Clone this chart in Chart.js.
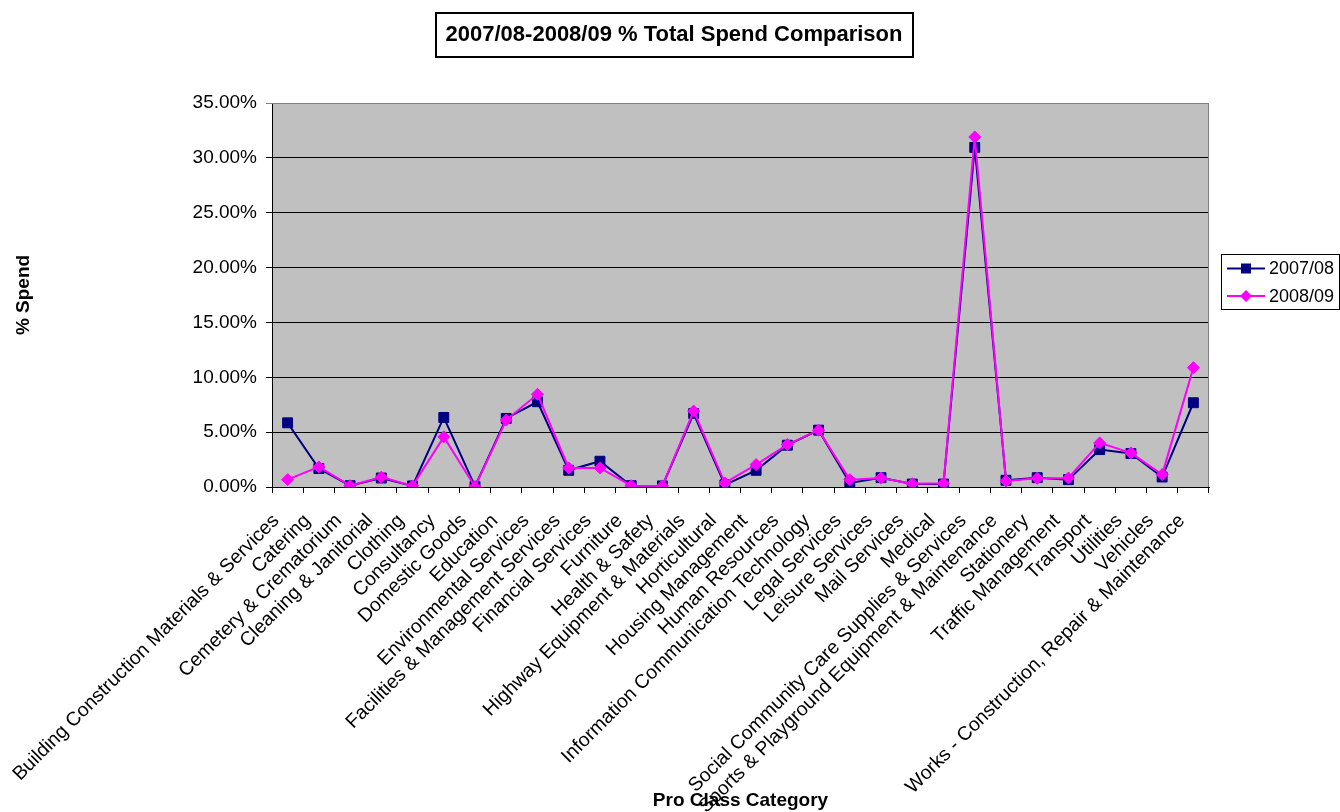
<!DOCTYPE html>
<html>
<head>
<meta charset="utf-8">
<script src="https://cdn.jsdelivr.net/npm/chart.js@4/dist/chart.umd.min.js"></script>
<style>
html,body{margin:0;padding:0;background:#fff;}
#wrap{width:1340px;height:812px;position:relative;}
</style>
</head>
<body>
<div id="wrap"><canvas id="c" width="1340" height="812"></canvas></div>
<script>
const categories = [
  "Building Construction Materials & Services",
  "Catering",
  "Cemetery & Crematorium",
  "Cleaning & Janitorial",
  "Clothing",
  "Consultancy",
  "Domestic Goods",
  "Education",
  "Environmental Services",
  "Facilities & Management Services",
  "Financial Services",
  "Furniture",
  "Health & Safety",
  "Highway Equipment & Materials",
  "Horticultural",
  "Housing Management",
  "Human Resources",
  "Information Communication Technology",
  "Legal Services",
  "Leisure Services",
  "Mail Services",
  "Medical",
  "Social Community Care Supplies & Services",
  "Sports & Playground Equipment & Maintenance",
  "Stationery",
  "Traffic Management",
  "Transport",
  "Utilities",
  "Vehicles",
  "Works - Construction, Repair & Maintenance"
];
const spend0708 = [5.85, 1.68, 0.12, 0.82, 0.10, 6.34, 0.06, 6.25, 7.77, 1.52, 2.35, 0.12, 0.10, 6.70, 0.20, 1.52, 3.81, 5.18, 0.37, 0.85, 0.27, 0.27, 30.95, 0.61, 0.85, 0.67, 3.41, 3.05, 0.91, 7.68];
const spend0809 = [0.67, 1.83, 0.12, 0.90, 0.10, 4.57, 0.02, 6.10, 8.45, 1.74, 1.74, 0.12, 0.10, 6.92, 0.37, 2.04, 3.87, 5.18, 0.67, 0.82, 0.30, 0.34, 31.90, 0.55, 0.79, 0.82, 4.02, 3.11, 1.13, 10.88];
const seriesLabels = ["2007/08", "2008/09"];
const chartTitle = "2007/08-2008/09 % Total Spend Comparison";
const yTitle = "% Spend";
const xTitle = "Pro Class Category";

const FONT = "'Liberation Sans', Arial, sans-serif";

const plotBg = {
  id: 'plotBg',
  beforeDraw(chart) {
    const {ctx, chartArea: a} = chart;
    ctx.save();
    ctx.fillStyle = '#C0C0C0';
    ctx.fillRect(a.left, a.top, a.right - a.left, a.bottom - a.top);
    ctx.restore();
  },
  beforeDatasetsDraw(chart) {
    const {ctx, chartArea: a} = chart;
    ctx.save();
    ctx.strokeStyle = '#808080';
    ctx.lineWidth = 1;
    ctx.beginPath();
    ctx.moveTo(a.left, a.top + 0.5);
    ctx.lineTo(a.right - 0.5, a.top + 0.5);
    ctx.lineTo(a.right - 0.5, a.bottom);
    ctx.stroke();
    ctx.restore();
  }
};

const titleBox = {
  id: 'titleBox',
  afterDraw(chart) {
    const {ctx} = chart;
    const tb = chart.titleBlock;
    ctx.save();
    ctx.font = "bold 22px " + FONT;
    const w = ctx.measureText(chartTitle).width;
    const cx = (tb.left + tb.right) / 2;
    ctx.strokeStyle = '#000';
    ctx.lineWidth = 2;
    ctx.strokeRect(Math.round(cx - w / 2 - 10), 13, Math.round(w + 20), 44);
    ctx.restore();
  }
};

const customLegend = {
  id: 'customLegend',
  afterDraw(chart) {
    const {ctx} = chart;
    ctx.save();
    ctx.strokeStyle = '#000';
    ctx.lineWidth = 1;
    ctx.strokeRect(1221.5, 254.5, 118, 55);
    const rows = [268.5, 296];
    chart.data.datasets.forEach((ds, i) => {
      const y = rows[i];
      ctx.strokeStyle = ds.borderColor;
      ctx.lineWidth = 2;
      ctx.beginPath();
      ctx.moveTo(1227, y);
      ctx.lineTo(1265, y);
      ctx.stroke();
      ctx.fillStyle = ds.pointBackgroundColor;
      ctx.beginPath();
      if (ds.pointStyle === 'rect') {
        ctx.rect(1246 - 5, y - 5, 10, 10);
      } else {
        ctx.moveTo(1246, y - 6);
        ctx.lineTo(1252, y);
        ctx.lineTo(1246, y + 6);
        ctx.lineTo(1240, y);
        ctx.closePath();
      }
      ctx.fill();
      ctx.fillStyle = '#000';
      ctx.font = "18px " + FONT;
      ctx.textBaseline = 'middle';
      ctx.textAlign = 'left';
      ctx.fillText(ds.label, 1269, y + 1);
    });
    ctx.restore();
  }
};

new Chart(document.getElementById('c'), {
  type: 'line',
  data: {
    labels: categories,
    datasets: [
      {
        label: seriesLabels[0],
        data: spend0708,
        borderColor: '#000080',
        backgroundColor: '#000080',
        pointBackgroundColor: '#000080',
        pointBorderColor: '#000080',
        pointStyle: 'rect',
        pointRadius: 7,
        pointBorderWidth: 1,
        borderWidth: 2,
        tension: 0,
        order: 2
      },
      {
        label: seriesLabels[1],
        data: spend0809,
        borderColor: '#FF00FF',
        backgroundColor: '#FF00FF',
        pointBackgroundColor: '#FF00FF',
        pointBorderColor: '#FF00FF',
        pointStyle: 'rectRot',
        pointRadius: 6,
        pointBorderWidth: 1,
        borderWidth: 2,
        tension: 0,
        order: 1
      }
    ]
  },
  options: {
    responsive: false,
    animation: false,
    layout: { padding: { left: 8, right: 0, top: 0, bottom: 0 } },
    plugins: {
      legend: { display: false },
      tooltip: { enabled: false },
      title: {
        display: true,
        text: chartTitle,
        color: '#000',
        font: { family: FONT, size: 22, weight: 'bold', lineHeight: 1.2 },
        padding: { top: 21.3, bottom: 55.3 }
      }
    },
    scales: {
      x: {
        type: 'category',
        offset: true,
        grid: { offset: true, drawOnChartArea: false, drawTicks: true, tickLength: 6, color: '#000' },
        border: { display: true, color: '#000', width: 1 },
        ticks: {
          autoSkip: false,
          maxRotation: 45,
          minRotation: 45,
          color: '#000',
          padding: 5,
          font: { family: FONT, size: 19.5 },
          callback: function (v) { return this.getLabelForValue(v) + '   '; }
        },
        title: {
          display: true,
          text: xTitle,
          color: '#000',
          font: { family: FONT, size: 19, weight: 'bold', lineHeight: 1.2 },
          padding: { top: 0, bottom: 0 }
        },
        afterFit(scale) { scale.height = 325; }
      },
      y: {
        position: 'left',
        min: 0,
        max: 35,
        ticks: {
          stepSize: 5,
          color: '#000',
          padding: 9,
          font: { family: FONT, size: 19 },
          callback: v => v.toFixed(2) + '%'
        },
        grid: {
          color: ctx => (ctx.tick && ctx.tick.value === 35) ? '#808080' : '#000',
          lineWidth: 1,
          drawTicks: true,
          tickLength: 6
        },
        border: { display: true, color: '#000', width: 1 },
        title: {
          display: true,
          text: yTitle,
          color: '#000',
          font: { family: FONT, size: 19, weight: 'bold', lineHeight: 1.2 },
          padding: { top: 4, bottom: 0 }
        },
        afterFit(scale) { scale.width = 264; }
      },
      yRight: {
        position: 'right',
        display: true,
        min: 0,
        max: 35,
        grid: { display: false, drawTicks: false },
        border: { display: false },
        ticks: { display: false },
        afterFit(scale) { scale.width = 131; }
      }
    }
  },
  plugins: [plotBg, titleBox, customLegend]
});
</script>
</body>
</html>
